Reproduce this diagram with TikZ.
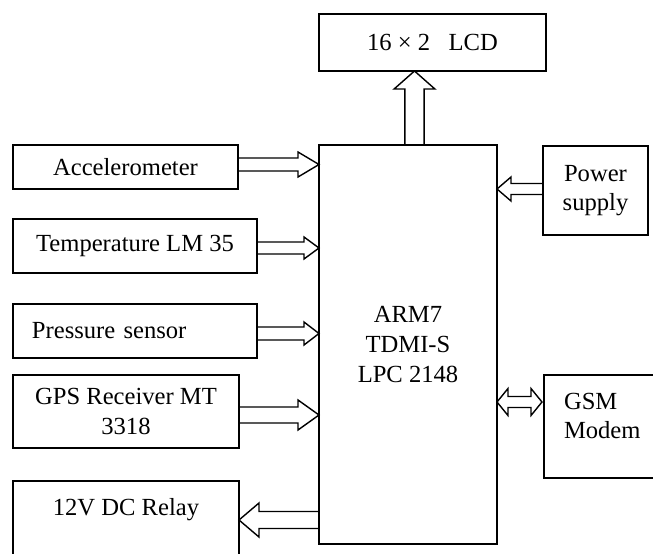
\documentclass[tikz,border=0pt]{standalone}
\usepackage{fontspec}
\setmainfont{Liberation Serif}
\usetikzlibrary{calc}

% hollow block arrow from #1 to #2: shaft half width #3, head half width #4, head length #5
\newcommand{\blockarrow}[5]{%
  \coordinate (bh) at ($(#2)!#5!(#1)$);
  \draw[fatline] ($(#1)!#3!90:(#2)$) -- ($(bh)!#3!90:(#2)$) -- ($(bh)!#4!90:(#2)$)
    -- (#2) -- ($(bh)!#4!-90:(#2)$) -- ($(bh)!#3!-90:(#2)$) -- ($(#1)!#3!-90:(#2)$);
}
% same, with a head at both ends
\newcommand{\dblockarrow}[5]{%
  \coordinate (ha) at ($(#1)!#5!(#2)$);
  \coordinate (hb) at ($(#2)!#5!(#1)$);
  \draw[fatline] (#1) -- ($(ha)!#4!90:(#2)$) -- ($(ha)!#3!90:(#2)$) -- ($(hb)!#3!90:(#2)$)
    -- ($(hb)!#4!90:(#2)$) -- (#2) -- ($(hb)!#4!-90:(#2)$) -- ($(hb)!#3!-90:(#2)$)
    -- ($(ha)!#3!-90:(#2)$) -- ($(ha)!#4!-90:(#2)$) -- cycle;
}

\begin{document}
\begin{tikzpicture}[scale=1.0, line width=1pt,
    every node/.style={font={\fontsize{17.5}{21}\selectfont}},
    unitbox/.style={draw, rectangle, outer sep=0pt, inner sep=0pt},
    fatline/.style={line width=1pt, line join=miter}]
  % page frame
  \useasboundingbox (0,0) rectangle (16.325,-13.85);
  \clip (0,0) rectangle (16.325,-13.85);
  % controller and display
  \node[unitbox, minimum width=5.675cm, minimum height=1.425cm] (lcd) at (10.8125,-1.0625) {16 × 2\ \ \ LCD};
  \node[unitbox, minimum width=4.45cm, minimum height=9.975cm, align=center] (arm) at (10.2,-8.6125) {ARM7\\TDMI-S\\LPC 2148};
  % inputs on the left
  \node[unitbox, minimum width=5.625cm, minimum height=1.1cm] (acc) at (3.1375,-4.175) {Accelerometer};
  \node[unitbox, minimum width=6.1cm, minimum height=1.35cm] (temp) at (3.375,-6.15) {Temperature LM 35};
  \node[unitbox, text width=5.15cm, inner xsep=0.475cm, minimum height=1.35cm, align=left] (press) at (3.375,-8.275) {Pressure sensor};
  \node[unitbox, minimum width=5.65cm, minimum height=1.825cm, align=center] (gps) at (3.15,-10.2875) {GPS Receiver MT\\3318};
  % relay box runs off the bottom edge
  \node[unitbox, anchor=north, minimum width=5.65cm, text height=0.85cm, text depth=2cm] (relay) at (3.15,-12.025) {12V DC Relay};
  % right hand side
  \node[unitbox, minimum width=2.625cm, minimum height=2.225cm, align=center] (pwr) at (14.8875,-4.7625) {Power\\supply};
  \node[unitbox, anchor=north west, inner xsep=0.5cm, text height=0.85cm, text depth=1.725cm] (gsm) at (13.6,-9.375)
    {\begin{tabular}[t]{@{}l@{}}GSM\\Modem\end{tabular}};
  % arrow end points
  \coordinate (lcdout) at ([xshift=0.1625cm]arm.north);
  \coordinate (lcdin) at (lcdout |- lcd.south);
  \coordinate (accout) at ([yshift=0.0625cm]acc.east);
  \coordinate (accin) at (accout -| arm.west);
  \coordinate (tempout) at ([yshift=-0.05cm]temp.east);
  \coordinate (tempin) at (tempout -| arm.west);
  \coordinate (pressout) at ([yshift=-0.0625cm]press.east);
  \coordinate (pressin) at (pressout -| arm.west);
  \coordinate (gpsout) at ([yshift=-0.0875cm]gps.east);
  \coordinate (gpsin) at (gpsout -| arm.west);
  \coordinate (relayin) at ([yshift=-0.975cm]relay.north east);
  \coordinate (relayout) at (relayin -| arm.west);
  \coordinate (pwrout) at ([yshift=0.0375cm]pwr.west);
  \coordinate (pwrin) at (pwrout -| arm.east);
  \coordinate (gsmin) at ([yshift=-0.675cm, xshift=-0.05cm]gsm.north west);
  \coordinate (gsmout) at (gsmin -| arm.east);
  % block arrows
  \blockarrow{lcdout}{lcdin}{0.24cm}{0.51cm}{0.45cm}
  \blockarrow{accout}{accin}{0.1625cm}{0.3125cm}{0.525cm}
  \blockarrow{tempout}{tempin}{0.15cm}{0.275cm}{0.375cm}
  \blockarrow{pressout}{pressin}{0.1625cm}{0.2875cm}{0.375cm}
  \blockarrow{gpsout}{gpsin}{0.2cm}{0.375cm}{0.525cm}
  \blockarrow{relayout}{relayin}{0.2125cm}{0.425cm}{0.5cm}
  \blockarrow{pwrout}{pwrin}{0.1375cm}{0.3cm}{0.35cm}
  \dblockarrow{gsmout}{gsmin}{0.1375cm}{0.3375cm}{0.275cm}
\end{tikzpicture}
\end{document}
